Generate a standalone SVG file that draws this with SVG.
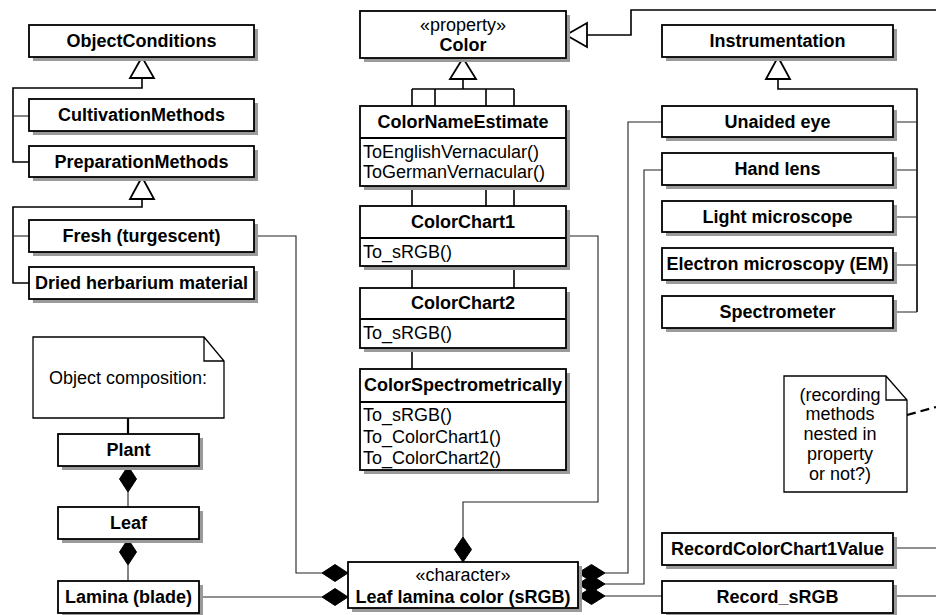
<svg xmlns="http://www.w3.org/2000/svg" width="936" height="615" viewBox="0 0 936 615">
<style>
text{font-family:"Liberation Sans",Arial,sans-serif;font-size:18px;fill:#000}
.b{font-weight:bold;text-anchor:middle}
.c{text-anchor:middle}
.box{fill:#fff;stroke:#000;stroke-width:1.8}
.sh{fill:#9a9a9a}
.ln{fill:none;stroke:#222;stroke-width:1.1}
.gl{fill:none;stroke:#000;stroke-width:1.6}
.tri{fill:#fff;stroke:#000;stroke-width:1.8}
.dia{fill:#000;stroke:#000;stroke-width:1}
.note{fill:#fff;stroke:#000;stroke-width:1.3}
.dash{fill:none;stroke:#000;stroke-width:2.2;stroke-dasharray:9 5}
</style>
<rect width="936" height="615" fill="#fff"/>
<g id="connectors">
  <!-- Color subclass tree -->
  <path class="gl" d="M463,79V89M412,89H514M435,89V106M486,89V206M514,89V288M412,89V369"/>
  <polygon class="tri" points="463,58 450,79 476,79"/>
  <!-- Color to right -->
  <path class="gl" d="M587,35H631V10H936"/>
  <polygon class="tri" points="566,35 587,23 587,47"/>
  <!-- Instrumentation tree -->
  <path class="gl" d="M778,79V89H917V312"/>
  <path class="ln" d="M893,122H917M893,170H917M893,217H917M893,265H917M893,312H917"/>
  <polygon class="tri" points="778,57 766,79 790,79"/>
  <!-- ObjectConditions tree -->
  <path class="gl" d="M142,78V88H13V162H29"/>
  <path class="ln" d="M13,116H29"/>
  <polygon class="tri" points="142,57 130,78 154,78"/>
  <!-- PreparationMethods tree -->
  <path class="gl" d="M142,199V207H13V283H29"/>
  <path class="ln" d="M13,236H29"/>
  <polygon class="tri" points="142,177 130,199 154,199"/>
  <!-- compositions to Leaf lamina color -->
  <path class="ln" d="M254,236H296V573H322"/>
  <polygon class="dia" points="322,573 335,564.5 348,573 335,581.5"/>
  <path class="ln" d="M199,597H322"/>
  <polygon class="dia" points="322,597 335,588.5 348,597 335,605.5"/>
  <path class="ln" d="M566,236H598V502H463V537"/>
  <polygon class="dia" points="463,537 471.5,549.5 463,562 454.5,549.5"/>
  <path class="ln" d="M662,122H628V573H605"/>
  <path class="ln" d="M662,170H644V584H605"/>
  <path class="ln" d="M662,596H605"/>
  <polygon class="dia" points="578,573 591.5,564.5 605,573 591.5,581.5"/>
  <polygon class="dia" points="578,584 591.5,575.5 605,584 591.5,592.5"/>
  <polygon class="dia" points="578,596 591.5,587.5 605,596 591.5,604.5"/>
  <path class="ln" d="M893,548H936M893,596H936"/>
  <!-- object composition -->
  <path d="M128,418V434" stroke="#000" stroke-width="2.2"/>
  <path class="ln" d="M128,492V507M128,565V581"/>
  <polygon class="dia" points="128,466 136.5,479 128,492 119.5,479"/>
  <polygon class="dia" points="128,539 136.5,552 128,565 119.5,552"/>
  <path class="dash" d="M907,415L936,407"/>
</g>
<g id="ObjectConditions"><rect class="sh" x="33" y="29" width="225" height="32"/><rect class="box" x="29" y="25" width="225" height="32"/><text class="b" x="141.5" y="47">ObjectConditions</text></g>
<g id="CultivationMethods"><rect class="sh" x="33" y="103" width="225" height="32"/><rect class="box" x="29" y="99" width="225" height="32"/><text class="b" x="141.5" y="121">CultivationMethods</text></g>
<g id="PreparationMethods"><rect class="sh" x="33" y="150" width="225" height="31"/><rect class="box" x="29" y="146" width="225" height="31"/><text class="b" x="141.5" y="168">PreparationMethods</text></g>
<g id="Fresh"><rect class="sh" x="33" y="224" width="225" height="32"/><rect class="box" x="29" y="220" width="225" height="32"/><text class="b" x="141.5" y="242">Fresh (turgescent)</text></g>
<g id="Dried"><rect class="sh" x="33" y="271" width="225" height="32"/><rect class="box" x="29" y="267" width="225" height="32"/><text class="b" x="141.5" y="289">Dried herbarium material</text></g>
<g id="NoteComposition"><path class="note" d="M33,337H204L224,361V418H33Z M204,337V361H224"/><text class="c" x="128" y="384">Object composition:</text></g>
<g id="Plant"><rect class="sh" x="62" y="438" width="141" height="32"/><rect class="box" x="58" y="434" width="141" height="32"/><text class="b" x="128.5" y="456">Plant</text></g>
<g id="Leaf"><rect class="sh" x="62" y="511" width="141" height="32"/><rect class="box" x="58" y="507" width="141" height="32"/><text class="b" x="128.5" y="529">Leaf</text></g>
<g id="Lamina"><rect class="sh" x="62" y="585" width="141" height="32"/><rect class="box" x="58" y="581" width="141" height="32"/><text class="b" x="128.5" y="603">Lamina (blade)</text></g>
<g id="Color"><rect class="sh" x="364" y="15" width="206" height="47"/><rect class="box" x="360" y="11" width="206" height="47"/><text class="c" x="463" y="31">«property»</text><text class="b" x="463" y="51">Color</text></g>
<g id="ColorNameEstimate"><rect class="sh" x="364" y="110" width="206" height="80"/><rect class="box" x="360" y="106" width="206" height="80"/><path class="box" d="M360,138H566"/><text class="b" x="463" y="128">ColorNameEstimate</text><text x="363" y="158">ToEnglishVernacular()</text><text x="363" y="178">ToGermanVernacular()</text></g>
<g id="ColorChart1"><rect class="sh" x="364" y="210" width="206" height="60"/><rect class="box" x="360" y="206" width="206" height="60"/><path class="box" d="M360,238H566"/><text class="b" x="463" y="228">ColorChart1</text><text x="363" y="258">To_sRGB()</text></g>
<g id="ColorChart2"><rect class="sh" x="364" y="292" width="206" height="60"/><rect class="box" x="360" y="288" width="206" height="60"/><path class="box" d="M360,319H566"/><text class="b" x="463" y="309">ColorChart2</text><text x="363" y="339">To_sRGB()</text></g>
<g id="ColorSpectrometrically"><rect class="sh" x="364" y="373" width="206" height="101"/><rect class="box" x="360" y="369" width="206" height="101"/><path class="box" d="M360,402H566"/><text class="b" x="463" y="391">ColorSpectrometrically</text><text x="363" y="421">To_sRGB()</text><text x="363" y="443">To_ColorChart1()</text><text x="363" y="464">To_ColorChart2()</text></g>
<g id="LeafLaminaColor"><rect class="sh" x="352" y="566" width="230" height="46"/><rect class="box" x="348" y="562" width="230" height="46"/><text class="c" x="463" y="581">«character»</text><text class="b" x="463" y="603">Leaf lamina color (sRGB)</text></g>
<g id="Instrumentation"><rect class="sh" x="666" y="29" width="231" height="32"/><rect class="box" x="662" y="25" width="231" height="32"/><text class="b" x="777.5" y="47">Instrumentation</text></g>
<g id="UnaidedEye"><rect class="sh" x="666" y="110" width="231" height="31"/><rect class="box" x="662" y="106" width="231" height="31"/><text class="b" x="777.5" y="128">Unaided eye</text></g>
<g id="HandLens"><rect class="sh" x="666" y="157" width="231" height="32"/><rect class="box" x="662" y="153" width="231" height="32"/><text class="b" x="777.5" y="175">Hand lens</text></g>
<g id="LightMicroscope"><rect class="sh" x="666" y="205" width="231" height="31"/><rect class="box" x="662" y="201" width="231" height="31"/><text class="b" x="777.5" y="223">Light microscope</text></g>
<g id="ElectronMicroscopy"><rect class="sh" x="666" y="252" width="231" height="32"/><rect class="box" x="662" y="248" width="231" height="32"/><text class="b" x="777.5" y="270">Electron microscopy (EM)</text></g>
<g id="Spectrometer"><rect class="sh" x="666" y="300" width="231" height="32"/><rect class="box" x="662" y="296" width="231" height="32"/><text class="b" x="777.5" y="318">Spectrometer</text></g>
<g id="NoteRecording"><path class="note" d="M784,376H886L907,400V492H784Z M886,376V400H907"/><text class="c" x="840" y="401">(recording</text><text class="c" x="840" y="420">methods</text><text class="c" x="840" y="440">nested in</text><text class="c" x="840" y="460">property</text><text class="c" x="840" y="480">or not?)</text></g>
<g id="RecordColorChart1Value"><rect class="sh" x="666" y="537" width="231" height="32"/><rect class="box" x="662" y="533" width="231" height="32"/><text class="b" x="777.5" y="555">RecordColorChart1Value</text></g>
<g id="RecordSRGB"><rect class="sh" x="666" y="585" width="231" height="32"/><rect class="box" x="662" y="581" width="231" height="32"/><text class="b" x="777.5" y="603">Record_sRGB</text></g>
</svg>
